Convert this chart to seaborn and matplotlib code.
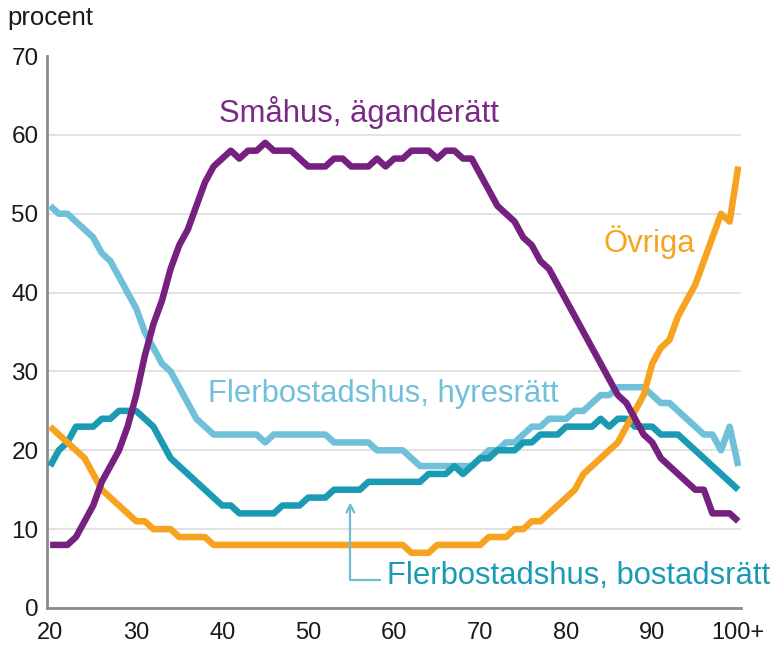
import numpy as np
import pandas as pd
import matplotlib
matplotlib.use("Agg")
import matplotlib.pyplot as plt
import seaborn as sns

# ---------------------------------------------------------------------------
# DATA  (andel i procent per ålder, 20 ... 100+)
# ---------------------------------------------------------------------------
ages = list(range(20, 101))

smahus_aganderatt = [
    8, 8, 8, 9, 11, 13, 16, 18, 20, 23,
    27, 32, 36, 39, 43, 46, 48, 51, 54, 56,
    57, 58, 57, 58, 58, 59, 58, 58, 58, 57,
    56, 56, 56, 57, 57, 56, 56, 56, 57, 56,
    57, 57, 58, 58, 58, 57, 58, 58, 57, 57,
    55, 53, 51, 50, 49, 47, 46, 44, 43, 41,
    39, 37, 35, 33, 31, 29, 27, 26, 24, 22,
    21, 19, 18, 17, 16, 15, 15, 12, 12, 12, 11,
]
fler_hyresratt = [
    51, 50, 50, 49, 48, 47, 45, 44, 42, 40,
    38, 35, 33, 31, 30, 28, 26, 24, 23, 22,
    22, 22, 22, 22, 22, 21, 22, 22, 22, 22,
    22, 22, 22, 21, 21, 21, 21, 21, 20, 20,
    20, 20, 19, 18, 18, 18, 18, 18, 18, 18,
    19, 20, 20, 21, 21, 22, 23, 23, 24, 24,
    24, 25, 25, 26, 27, 27, 28, 28, 28, 28,
    27, 26, 26, 25, 24, 23, 22, 22, 20, 23, 18,
]
fler_bostadsratt = [
    18, 20, 21, 23, 23, 23, 24, 24, 25, 25,
    25, 24, 23, 21, 19, 18, 17, 16, 15, 14,
    13, 13, 12, 12, 12, 12, 12, 13, 13, 13,
    14, 14, 14, 15, 15, 15, 15, 16, 16, 16,
    16, 16, 16, 16, 17, 17, 17, 18, 17, 18,
    19, 19, 20, 20, 20, 21, 21, 22, 22, 22,
    23, 23, 23, 23, 24, 23, 24, 24, 23, 23,
    23, 22, 22, 22, 21, 20, 19, 18, 17, 16, 15,
]
ovriga = [
    23, 22, 21, 20, 19, 17, 15, 14, 13, 12,
    11, 11, 10, 10, 10, 9, 9, 9, 9, 8,
    8, 8, 8, 8, 8, 8, 8, 8, 8, 8,
    8, 8, 8, 8, 8, 8, 8, 8, 8, 8,
    8, 8, 7, 7, 7, 8, 8, 8, 8, 8,
    8, 9, 9, 9, 10, 10, 11, 11, 12, 13,
    14, 15, 17, 18, 19, 20, 21, 23, 25, 27,
    31, 33, 34, 37, 39, 41, 44, 47, 50, 49, 56,
]

x_ticks = [20, 30, 40, 50, 60, 70, 80, 90, 100]
x_ticklabels = ["20", "30", "40", "50", "60", "70", "80", "90", "100+"]
y_ticks = [0, 10, 20, 30, 40, 50, 60, 70]

# ---------------------------------------------------------------------------
# STYLE
# ---------------------------------------------------------------------------
COLORS = {
    "Flerbostadshus, hyresrätt":   "#70c0d9",
    "Flerbostadshus, bostadsrätt": "#1a9bb3",
    "Övriga":                      "#f7a320",
    "Småhus, äganderätt":          "#76207f",
}

sns.set_style("white")
plt.rcParams["font.family"] = ["Liberation Sans", "DejaVu Sans"]

df = pd.concat([
    pd.DataFrame({"alder": ages, "procent": fler_hyresratt,   "serie": "Flerbostadshus, hyresrätt"}),
    pd.DataFrame({"alder": ages, "procent": fler_bostadsratt, "serie": "Flerbostadshus, bostadsrätt"}),
    pd.DataFrame({"alder": ages, "procent": ovriga,           "serie": "Övriga"}),
    pd.DataFrame({"alder": ages, "procent": smahus_aganderatt, "serie": "Småhus, äganderätt"}),
], ignore_index=True)

fig = plt.figure(figsize=(7.79, 6.52), dpi=100)
ax = fig.add_axes([0.060, 0.0675, 0.891, 0.8465])

sns.lineplot(
    data=df, x="alder", y="procent", hue="serie",
    palette=COLORS, hue_order=list(COLORS.keys()),
    linewidth=4.7, legend=False, ax=ax, zorder=3,
    solid_capstyle="butt",
)

# axes
ax.set_xlim(19.6, 100.3)
ax.set_ylim(0, 70)
ax.set_xticks(x_ticks)
ax.set_xticklabels(x_ticklabels)
ax.set_yticks(y_ticks)
ax.set_xlabel("")
ax.set_ylabel("")

ax.tick_params(axis="x", direction="in", length=9, width=1.2, color="#d0d0d0",
               labelsize=17, labelcolor="#1a1a1a", pad=10)
ax.tick_params(axis="y", length=0, labelsize=17.5, labelcolor="#1a1a1a", pad=6)

ax.yaxis.grid(True, color="#e2e2e2", linewidth=1.4)
ax.get_ygridlines()[-1].set_visible(False)
ax.set_axisbelow(True)

for side in ["top", "right"]:
    ax.spines[side].set_visible(False)
for side in ["left", "bottom"]:
    ax.spines[side].set_color("#8c8c8c")
    ax.spines[side].set_linewidth(2)

# y unit
fig.text(0.010, 0.972, "procent", fontsize=18.5, color="#1a1a1a", va="center", ha="left")

# series labels
ax.text(39.6, 62.8, "Småhus, äganderätt", color="#7a2a86", fontsize=22.3, va="center", ha="left")
ax.text(38.4, 27.1, "Flerbostadshus, hyresrätt", color="#70c0d9", fontsize=22.3, va="center", ha="left")
ax.text(84.3, 46.4, "Övriga", color="#f7a320", fontsize=22.3, va="center", ha="left")
ax.text(59.2, 4.1, "Flerbostadshus, bostadsrätt", color="#1a9bb3", fontsize=22.3, va="center", ha="left")

# arrow pointing at the bostadsrätt line
ax.annotate(
    "", xy=(54.9, 13.4), xytext=(58.3, 3.6),
    arrowprops=dict(arrowstyle="->", color="#6fbcd5", lw=1.6,
                    connectionstyle="angle,angleA=0,angleB=90,rad=0",
                    shrinkA=0, shrinkB=0, mutation_scale=14),
)

fig.savefig("out.png", dpi=100)
